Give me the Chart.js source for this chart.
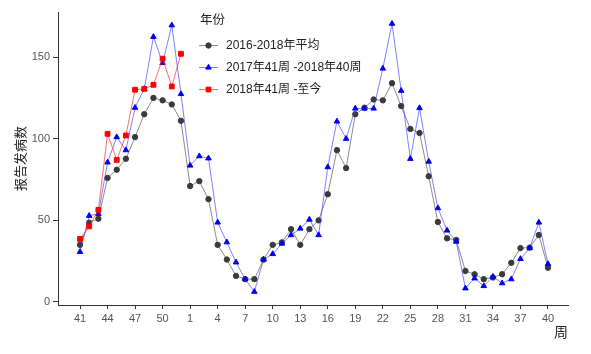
<!DOCTYPE html>
<html>
<head>
<meta charset="utf-8">
<script src="https://cdn.jsdelivr.net/npm/chart.js@4/dist/chart.umd.min.js"></script>
<style>
  html, body { margin: 0; padding: 0; background: #fff; }
  #wrap { width: 591px; height: 354px; }
</style>
</head>
<body>
<div id="wrap"><canvas id="weekChart" width="591" height="354"></canvas></div>
<script>

// week labels, 41 -> 52 then 1 -> 40
const weeks = [41,42,43,44,45,46,47,48,49,50,51,52,
    1,2,3,4,5,6,7,8,9,10,11,12,13,14,15,16,17,18,19,20,
    21,22,23,24,25,26,27,28,29,30,31,32,33,34,35,36,37,38,39,40];

const avgCases = [35,48.6,51,76,81,87.7,101,115,125,123.5,121,111,
    71,74,63,35,26,16,14,14,26,35,36.5,44.6,35,44.6,50,66,93,82,
    115,119,124,123.5,134,120,106,103.5,77,49,39,38,19,17,14,15,17,24,33,33.3,41,21];

const lastSeason = [30.7,52.8,54,85.5,101,93,119,130.5,162.4,146.4,169.5,127.4,
    83.6,89.3,88,48.7,36.6,24.3,14,6.3,26,29.4,35.8,41,45,50.5,41,82.6,110.6,100,
    118.5,118.5,118.5,143,170.5,129.4,87.7,118.8,86,57.5,43.8,37,8.4,14.5,9.8,15.5,11.5,14,26.4,33,48.7,23.3];

const thisSeason = [38.6,46.3,56.4,103,87,102,130,130.5,133,149,132,152];

const seriesNames = ["2016-2018年平均", "2017年41周 -2018年40周", "2018年41周 -至今"];
const legendTitle = "年份";
const yTicks = [0, 50, 100, 150];
const xTickIdx = [0,3,6,9,12,15,18,21,24,27,30,33,36,39,42,45,48,51];

const FONT = "'Liberation Sans', 'Noto Sans CJK SC', sans-serif";

function toPoints(arr){
    return arr.map((v, i) => ({x: i, y: v}));
}

// legend drawn inside the plot, top left
const insideLegend = {
    id: 'insideLegend',
    afterDraw(chart){
        const ctx = chart.ctx;
        ctx.save();
        ctx.fillStyle = '#222';
        ctx.font = '12.5px ' + FONT;
        ctx.textBaseline = 'middle';
        ctx.textAlign = 'left';
        ctx.fillText(legendTitle, 200, 21);

        ctx.font = '12px ' + FONT;
        const rows = [45.5, 67.5, 89.5];
        chart.data.datasets.forEach((ds, k) => {
            const y = rows[k];
            ctx.strokeStyle = ds.borderColor;
            ctx.lineWidth = 1;
            ctx.beginPath();
            ctx.moveTo(199, y);
            ctx.lineTo(218, y);
            ctx.stroke();
            ctx.fillStyle = ds.pointBackgroundColor;
            ctx.strokeStyle = ds.pointBorderColor;
            Chart.helpers.drawPoint(ctx, {
                pointStyle: ds.pointStyle,
                radius: ds.pointRadius,
                rotation: 0,
                borderWidth: 1
            }, 208.5, y);
            ctx.fillStyle = '#222';
            ctx.fillText(ds.label, 226, y);
        });
        ctx.restore();
    }
};

new Chart(document.getElementById("weekChart"), {
    type: 'line',
    data: {
        datasets: [
            {
                label: seriesNames[0],
                data: toPoints(avgCases),
                borderColor: 'rgba(100,100,100,0.75)',
                pointBackgroundColor: '#3a3a3a',
                pointBorderColor: '#3a3a3a',
                pointStyle: 'circle',
                pointRadius: 2.7,
                borderWidth: 1,
                order: 3
            },
            {
                label: seriesNames[1],
                data: toPoints(lastSeason),
                borderColor: 'rgba(60,60,255,0.65)',
                pointBackgroundColor: '#0000ee',
                pointBorderColor: '#0000ee',
                pointStyle: 'triangle',
                pointRadius: 3.2,
                borderWidth: 1,
                order: 2
            },
            {
                label: seriesNames[2],
                data: toPoints(thisSeason),
                borderColor: 'rgba(255,50,50,0.7)',
                pointBackgroundColor: '#ff0000',
                pointBorderColor: '#ff0000',
                pointStyle: 'rect',
                pointRadius: 3.4,
                borderWidth: 1,
                order: 1
            }
        ]
    },
    options: {
        responsive: false,
        animation: false,
        layout: {
            padding: {left: 4, right: 23, top: 12, bottom: 12}
        },
        plugins: {
            legend: {display: false},
            tooltip: {enabled: false}
        },
        scales: {
            x: {
                type: 'linear',
                min: -2.4,
                max: 53.18,
                afterFit(scale){ scale.height = 37; },
                afterBuildTicks(scale){
                    scale.ticks = xTickIdx.map(v => ({value: v}));
                },
                ticks: {
                    autoSkip: false,
                    maxRotation: 0,
                    color: '#555',
                    padding: 3,
                    font: {size: 11, family: FONT},
                    callback: (v) => weeks[v]
                },
                grid: {
                    drawOnChartArea: false,
                    drawTicks: true,
                    tickLength: 4,
                    tickColor: '#333'
                },
                border: {display: true, color: '#333', width: 1},
                title: {
                    display: true,
                    text: '周',
                    align: 'end',
                    color: '#222',
                    padding: {top: 0, bottom: 0},
                    font: {size: 14, family: FONT}
                }
            },
            y: {
                min: -1.84,
                max: 177.6,
                afterFit(scale){ scale.width = 54; },
                afterBuildTicks(scale){
                    scale.ticks = yTicks.map(v => ({value: v}));
                },
                ticks: {
                    color: '#555',
                    padding: 3,
                    font: {size: 11, family: FONT}
                },
                grid: {
                    drawOnChartArea: false,
                    drawTicks: true,
                    tickLength: 5,
                    tickColor: '#333'
                },
                border: {display: true, color: '#333', width: 1},
                title: {
                    display: true,
                    text: '报告发病数',
                    color: '#222',
                    padding: {top: 10, bottom: 0},
                    font: {size: 13, family: FONT}
                }
            }
        }
    },
    plugins: [insideLegend]
});

</script>
</body>
</html>
